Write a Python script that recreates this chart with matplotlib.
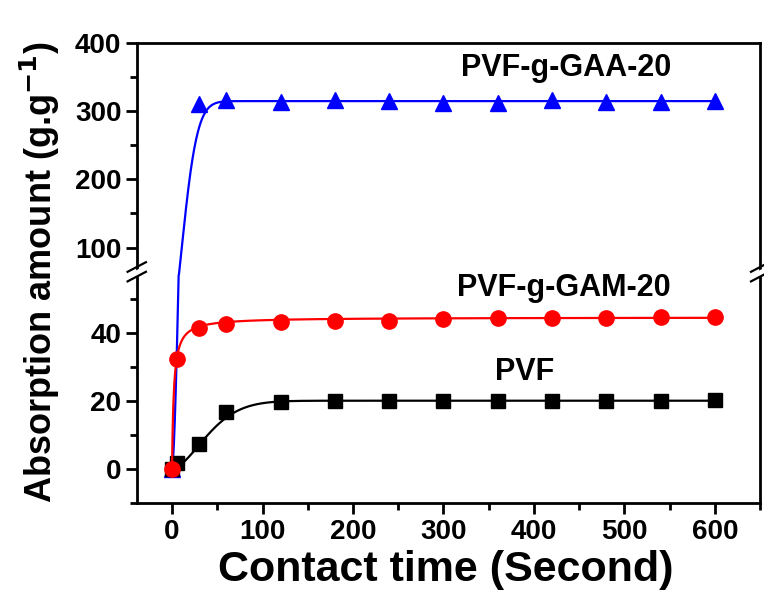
import numpy as np
import matplotlib.pyplot as plt
from matplotlib.ticker import MultipleLocator

plt.rcParams['font.family'] = ['Liberation Sans', 'DejaVu Sans']
plt.rcParams['font.weight'] = 'bold'
plt.rcParams['mathtext.default'] = 'bf'

# contact time (s)
t_pvf = [0, 5, 30, 60, 120, 180, 240, 300, 360, 420, 480, 540, 600]
q_pvf = [0, 1.8, 7.3, 16.6, 19.6, 19.8, 19.8, 20.0, 20.0, 20.0, 20.0, 20.0, 20.1]

t_gam = [0, 5, 30, 60, 120, 180, 240, 300, 360, 420, 480, 540, 600]
q_gam = [0, 32.2, 41.3, 42.6, 43.0, 43.5, 43.4, 44.1, 44.3, 44.3, 44.3, 44.6, 44.5]
e_gam = [0, 1.2, 1.0, 1.0, 1.2, 0.8, 0.8, 0.8, 0.8, 0.8, 0.8, 0.8, 0.8]

t_gaa = [0, 30, 60, 120, 180, 240, 300, 360, 420, 480, 540, 600]
q_gaa = [0, 311, 316, 314, 317, 315, 312, 312, 316, 314, 313, 315]
e_gaa = [0, 8, 8, 6, 8, 8, 8, 8, 8, 8, 8, 8]

# fitted kinetic curves (parameters)
pvf_fit = dict(qe=20.0, tau=49.3, n=1.69)   # Weibull-type
gaa_fit = dict(qe=315.0, tau=19.2, n=1.67)  # Weibull-type
gam_fit = dict(qe=44.5, kq=0.512)           # pseudo-second-order

tt = np.linspace(0, 600, 1201)


def weibull(t, qe, tau, n):
    return qe * (1 - np.exp(-(t / tau) ** n))


def pso(t, qe, kq):
    return qe * kq * t / (1 + kq * t)


L, R, TOP, BRK, BOT = 0.179, 0.995, 0.928, 0.542, 0.162
fig = plt.figure(figsize=(7.64, 6.0), dpi=100)
ax_top = fig.add_axes([L, BRK, R - L, TOP - BRK])
ax_bot = fig.add_axes([L, BOT, R - L, BRK - BOT])

for ax in (ax_top, ax_bot):
    # blue underneath, red on top (as in the original)
    ax.plot(tt, weibull(tt, **gaa_fit), color='blue', lw=1.6, zorder=2)
    ax.errorbar(t_gaa, q_gaa, yerr=e_gaa, fmt='^', color='blue', ms=12,
                elinewidth=1, capsize=0, zorder=3)
    ax.plot(tt, weibull(tt, **pvf_fit), color='black', lw=1.6, zorder=4)
    ax.plot(t_pvf, q_pvf, 's', color='black', ms=10, zorder=5)
    ax.plot(tt, pso(tt, **gam_fit), color='red', lw=1.6, zorder=6)
    ax.errorbar(t_gam, q_gam, yerr=e_gam, fmt='o', color='red', ms=11,
                elinewidth=1, capsize=0, zorder=7)
    ax.set_xlim(-39, 650)
    for s in ax.spines.values():
        s.set_linewidth(2)
    ax.tick_params(which='both', direction='out', width=2, labelsize=20)
    ax.tick_params(which='major', length=8, pad=3)
    ax.tick_params(which='minor', length=5)
    ax.xaxis.set_major_locator(MultipleLocator(100))
    ax.xaxis.set_minor_locator(MultipleLocator(50))

ax_top.set_ylim(60, 400)
ax_top.yaxis.set_major_locator(MultipleLocator(100))
ax_top.yaxis.set_minor_locator(MultipleLocator(50))
ax_top.spines['bottom'].set_visible(False)
ax_top.tick_params(axis='x', which='both', bottom=False, labelbottom=False)

ax_bot.set_ylim(-10, 57)
ax_bot.yaxis.set_major_locator(MultipleLocator(20))
ax_bot.yaxis.set_minor_locator(MultipleLocator(10))
ax_bot.spines['top'].set_visible(False)
ax_bot.tick_params(axis='x', which='major', pad=4)

# axis-break marks on left and right spines
for xb in (0.0, 1.0):
    x0 = L + xb * (R - L)
    fig.patches.append(plt.Polygon([[x0 - 0.012, BRK - 0.012], [x0 + 0.012, BRK + 0.004],
                                    [x0 + 0.012, BRK + 0.016], [x0 - 0.012, BRK]],
                                   closed=True, facecolor='white', edgecolor='none',
                                   transform=fig.transFigure, zorder=5))
    for dy in (-0.011, 0.005):
        fig.add_artist(plt.Line2D([x0 - 0.012, x0 + 0.012], [BRK + dy, BRK + dy + 0.016],
                                  color='black', lw=1.6, transform=fig.transFigure, zorder=6))

ax_top.text(435, 363, 'PVF-g-GAA-20', ha='center', va='center', fontsize=22, fontweight='bold')
ax_bot.text(433, 53, 'PVF-g-GAM-20', ha='center', va='center', fontsize=22, fontweight='bold')
ax_bot.text(390, 28.5, 'PVF', ha='center', va='center', fontsize=22, fontweight='bold')

fig.text(0.583, 0.05, 'Contact time (Second)', ha='center', va='center',
         fontsize=31, fontweight='bold')
fig.text(0.052, 0.547, 'Absorption amount (g.g$^{-1}$)', ha='center', va='center',
         rotation=90, fontsize=26, fontweight='bold')

fig.savefig('out.png', dpi=100)
